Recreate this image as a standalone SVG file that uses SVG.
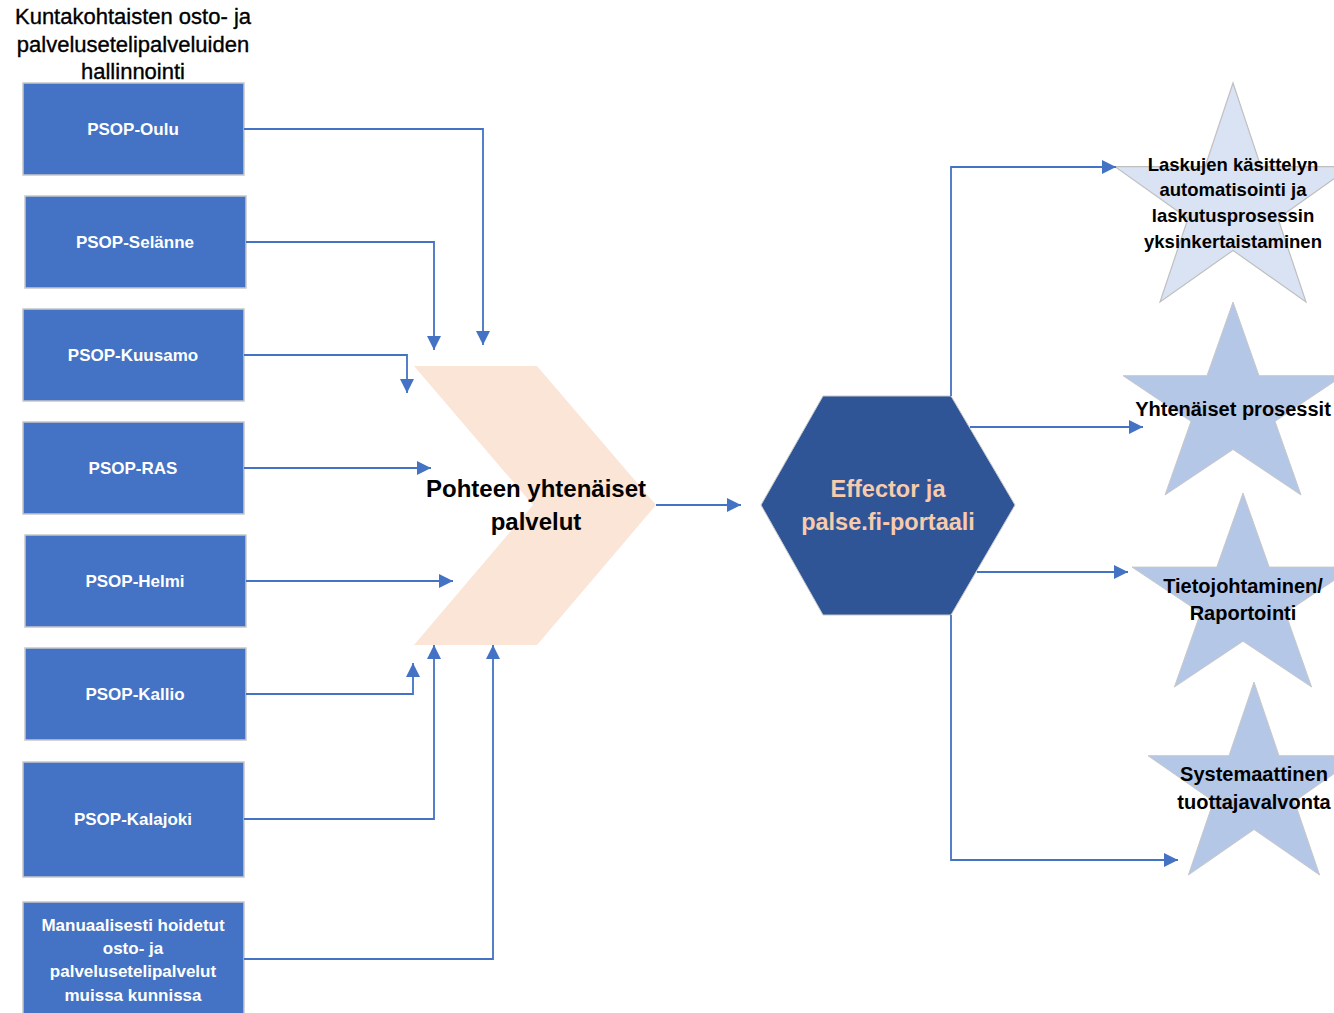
<svg xmlns="http://www.w3.org/2000/svg" width="1334" height="1013" viewBox="0 0 1334 1013">
<style>
text{font-family:"Liberation Sans",Arial,sans-serif;text-anchor:middle}
.box{fill:#4472C4;stroke:#C8C8C8;stroke-width:1.5}
.bt{fill:#FFFFFF;font-size:17px;font-weight:bold}
.title{fill:#000;font-size:22px;stroke:#000;stroke-width:0.35}
.chev{fill:#FBE5D6}
.hex{fill:#2F5597;stroke:#C8C8C8;stroke-width:1}
.ht{fill:#F8CBAD;font-size:23.5px;font-weight:bold}
.ct{fill:#000;font-size:24px;font-weight:bold}
.star1{fill:#DAE3F3;stroke:#BFBFBF;stroke-width:1.2}
.star{fill:#B4C7E7;stroke:#C8C8C8;stroke-width:1}
.st{fill:#000;font-size:20px;font-weight:bold}
.st1{fill:#000;font-size:18.5px;font-weight:bold}
.conn{fill:none;stroke:#4472C4;stroke-width:1.8;marker-end:url(#arr)}
</style>
<defs>
<marker id="arr" markerUnits="userSpaceOnUse" markerWidth="15" markerHeight="15" refX="14" refY="7.5" orient="auto">
<path d="M0,0.5 L14,7.5 L0,14.5 z" fill="#4472C4"/>
</marker>
</defs>
<rect width="1334" height="1013" fill="#FFFFFF"/>
<g id="title">
<text class="title" x="133" y="24">Kuntakohtaisten osto- ja</text>
<text class="title" x="133" y="52">palvelusetelipalveluiden</text>
<text class="title" x="133" y="79">hallinnointi</text>
</g>
<g id="psop-oulu"><rect class="box" x="23" y="83" width="221" height="92"/><text class="bt" x="133" y="135">PSOP-Oulu</text></g>
<g id="psop-selanne"><rect class="box" x="25" y="196" width="221" height="92"/><text class="bt" x="135" y="248">PSOP-Selänne</text></g>
<g id="psop-kuusamo"><rect class="box" x="23" y="309" width="221" height="92"/><text class="bt" x="133" y="361">PSOP-Kuusamo</text></g>
<g id="psop-ras"><rect class="box" x="23" y="422" width="221" height="92"/><text class="bt" x="133" y="474">PSOP-RAS</text></g>
<g id="psop-helmi"><rect class="box" x="25" y="535" width="221" height="92"/><text class="bt" x="135" y="587">PSOP-Helmi</text></g>
<g id="psop-kallio"><rect class="box" x="25" y="648" width="221" height="92"/><text class="bt" x="135" y="700">PSOP-Kallio</text></g>
<g id="psop-kalajoki"><rect class="box" x="23" y="762" width="221" height="115"/><text class="bt" x="133" y="825">PSOP-Kalajoki</text></g>
<g id="manual"><rect class="box" x="23" y="902" width="221" height="120"/>
<text class="bt" x="133" y="931">Manuaalisesti hoidetut</text>
<text class="bt" x="133" y="954">osto- ja</text>
<text class="bt" x="133" y="977">palvelusetelipalvelut</text>
<text class="bt" x="133" y="1001">muissa kunnissa</text>
</g>
<g id="pohteen">
<polygon class="chev" points="414,366 537,366 656,505 537,645 414,645 533,505"/>
<text class="ct" x="536" y="497">Pohteen yhtenäiset</text>
<text class="ct" x="536" y="530">palvelut</text>
</g>
<g id="effector">
<polygon class="hex" points="761,505 823,396 951,396 1015,505 951,615 823,615"/>
<text class="ht" x="888" y="497">Effector ja</text>
<text class="ht" x="888" y="530">palse.fi-portaali</text>
</g>
<g id="star-laskut">
<polygon class="star1" points="1233,83 1260.9,166.7 1351,166.7 1278,218.4 1306,302 1233,250.4 1160,302 1188,218.4 1115,166.7 1205.1,166.7"/>
<text class="st1" x="1233" y="171">Laskujen käsittelyn</text>
<text class="st1" x="1233" y="196">automatisointi ja</text>
<text class="st1" x="1233" y="222">laskutusprosessin</text>
<text class="st1" x="1233" y="248">yksinkertaistaminen</text>
</g>
<g id="star-prosessit">
<polygon class="star" points="1233,302 1259,375.7 1343,375.7 1275,421.3 1301,495 1233,449.5 1165,495 1191,421.3 1123,375.7 1207,375.7"/>
<text class="st" x="1233" y="416">Yhtenäiset prosessit</text>
</g>
<g id="star-tieto">
<polygon class="star" points="1243,493 1269.2,567.1 1354,567.1 1285.4,612.8 1311.6,687 1243,641.2 1174.4,687 1200.6,612.8 1132,567.1 1216.8,567.1"/>
<text class="st" x="1243" y="593">Tietojohtaminen/</text>
<text class="st" x="1243" y="620">Raportointi</text>
</g>
<g id="star-valvonta">
<polygon class="star" points="1254,682 1279,755.7 1360,755.7 1294.5,801.3 1319.6,875 1254,829.5 1188.4,875 1213.5,801.3 1148,755.7 1229,755.7"/>
<text class="st" x="1254" y="781">Systemaattinen</text>
<text class="st" x="1254" y="809">tuottajavalvonta</text>
</g>
<g id="connectors">
<path class="conn" d="M244,129 H483 V345"/>
<path class="conn" d="M246,242 H434 V350"/>
<path class="conn" d="M244,355 H407 V393"/>
<path class="conn" d="M244,468 H431"/>
<path class="conn" d="M246,581 H453"/>
<path class="conn" d="M246,694 H413 V663"/>
<path class="conn" d="M244,819 H434 V645"/>
<path class="conn" d="M244,959 H493 V645"/>
<path class="conn" d="M656,505 H741"/>
<path class="conn" d="M951,396 V167 H1116"/>
<path class="conn" d="M970,427 H1143"/>
<path class="conn" d="M977,572 H1128"/>
<path class="conn" d="M951,615 V860 H1178"/>
</g>
</svg>
